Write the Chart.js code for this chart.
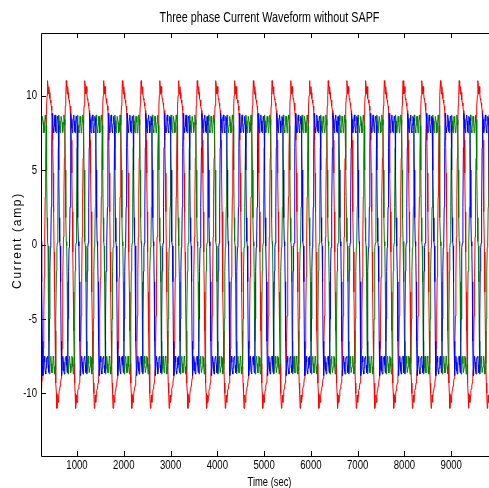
<!DOCTYPE html>
<html lang="en">
<head>
<meta charset="UTF-8">
<title>Three phase Current Waveform without SAPF</title>
<script src="https://cdn.jsdelivr.net/npm/chart.js"></script>
<style>
  html, body { margin: 0; padding: 0; background: #fff; overflow: hidden; }
  #wrap { width: 489px; height: 488px; overflow: hidden; }
</style>
</head>
<body>
<div id="wrap"><canvas id="grafico" width="500" height="488"></canvas></div>
<script>
    var titulo = 'Three phase Current Waveform without SAPF';
    var tituloX = 'Time (sec)';
    var tituloY = 'Current (amp)';
    var xMin = 230, xMax = 10000, yMin = -14.2, yMax = 14.2;

    // one cycle = 400 samples, read every 10 samples, starting at the red peak
    var period = 400, step = 10, firstPeak = 370;

    var xTicks = [1000, 2000, 3000, 4000, 5000, 6000, 7000, 8000, 9000];
    var yTicks = [-10, -5, 0, 5, 10];

    var redCycle = [
        11.0, 10.6, 10.1, 10.6, 10.2, 9.8, 9.7, 9.5, 9.3, 9.0,
        8.4, 7.0, 4.8, 2.2, -0.5, -3.2, -5.8, -8.0, -9.3, -10.0,
        -11.0, -10.6, -10.1, -10.6, -10.2, -9.8, -9.7, -9.5, -9.3, -9.0,
        -8.4, -7.0, -4.8, -2.2, 0.5, 3.2, 5.8, 8.0, 9.3, 10.0
    ];
    var blueCycle = [
        -7.5, -8.1, -8.6, -8.5, -5.0, -1.8, -0.2, 0.1, 2.5, 6.5,
        8.8, 8.4, 7.8, 7.5, 7.9, 8.5, 8.7, 8.3, 7.6, 7.5,
        8.1, 8.6, 8.5, 8.0, 5.0, 1.8, 0.2, -0.1, -2.5, -6.5,
        -8.8, -8.4, -7.8, -7.5, -7.9, -8.5, -8.7, -8.3, -7.6, -7.6
    ];
    var greenCycle = [
        0.2, -0.1, -2.5, -6.5, -8.7, -8.3, -7.7, -7.5, -8.0, -8.6,
        -8.6, -8.2, -7.5, -7.6, -8.2, -8.7, -8.4, -8.0, -5.0, -1.8,
        -0.2, 0.1, 2.5, 6.5, 8.7, 8.3, 7.7, 7.5, 8.0, 8.6,
        8.6, 8.2, 7.5, 7.6, 8.2, 8.7, 8.4, 8.0, 5.0, 1.8
    ];

    var fonte = '"Liberation Sans", Arial, sans-serif';

    function serie(cycle) {
        var pts = [];
        for (var s = xMin; s <= xMax; s += step) {
            var k = ((((s - firstPeak) % period) + period) % period) / step;
            pts.push({ x: s, y: cycle[k] });
        }
        return pts;
    }

    // narrow text like the original figure font
    function texto(ctx, str, x, y, size, sx, align) {
        ctx.save();
        ctx.translate(x, y);
        ctx.scale(sx, 1);
        ctx.font = size + 'px ' + fonte;
        ctx.textAlign = align;
        ctx.textBaseline = 'middle';
        ctx.fillText(str, 0, 0);
        ctx.restore();
    }

    // box with inward ticks, labels and titles
    var moldura = {
        id: 'moldura',
        afterDraw: function (chart) {
            var ctx = chart.ctx, a = chart.chartArea;
            var sx = chart.scales.x, sy = chart.scales.y;
            var t = 5;
            ctx.save();
            ctx.strokeStyle = '#000';
            ctx.lineWidth = 1;
            ctx.beginPath();
            ctx.rect(Math.round(a.left) + 0.5, Math.round(a.top) + 0.5,
                Math.round(a.right - a.left), Math.round(a.bottom - a.top));
            xTicks.forEach(function (v) {
                var px = Math.round(sx.getPixelForValue(v)) + 0.5;
                ctx.moveTo(px, a.bottom); ctx.lineTo(px, a.bottom - t);
                ctx.moveTo(px, a.top); ctx.lineTo(px, a.top + t);
            });
            yTicks.forEach(function (v) {
                var py = Math.round(sy.getPixelForValue(v)) + 0.5;
                ctx.moveTo(a.left, py); ctx.lineTo(a.left + t, py);
                ctx.moveTo(a.right, py); ctx.lineTo(a.right - t, py);
            });
            ctx.stroke();

            ctx.fillStyle = '#000';
            xTicks.forEach(function (v) {
                texto(ctx, String(v), sx.getPixelForValue(v), a.bottom + 10, 12, 0.8, 'center');
            });
            yTicks.forEach(function (v) {
                texto(ctx, String(v), a.left - 4, sy.getPixelForValue(v) + 0.5, 12, 0.8, 'right');
            });
            texto(ctx, titulo, (a.left + a.right) / 2, 18, 15, 0.72, 'center');
            texto(ctx, tituloX, (a.left + a.right) / 2, 482, 13, 0.72, 'center');

            ctx.save();
            ctx.translate(18, (a.top + a.bottom) / 2 - 4);
            ctx.rotate(-Math.PI / 2);
            ctx.font = '12px ' + fonte;
            ctx.letterSpacing = '1.7px';
            ctx.textAlign = 'center';
            ctx.textBaseline = 'middle';
            ctx.fillText(tituloY, 0, 0);
            ctx.restore();

            ctx.restore();
        }
    };

    var config = {
        type: 'line',
        data: {
            datasets: [
                { data: serie(blueCycle), borderColor: '#0000ff' },
                { data: serie(greenCycle), borderColor: '#008000' },
                { data: serie(redCycle), borderColor: '#ff0000' }
            ]
        },
        options: {
            responsive: false,
            animation: false,
            events: [],
            layout: { padding: { top: 33, right: 2, left: 0, bottom: 0 } },
            elements: {
                point: { radius: 0 },
                line: { borderWidth: 1, tension: 0 }
            },
            plugins: { legend: { display: false }, tooltip: { enabled: false } },
            scales: {
                x: {
                    type: 'linear',
                    min: xMin,
                    max: xMax,
                    grid: { display: false },
                    border: { display: false },
                    ticks: { display: false },
                    afterBuildTicks: function (s) { s.ticks = xTicks.map(function (v) { return { value: v }; }); },
                    afterFit: function (s) { s.height = 32; }
                },
                y: {
                    min: yMin,
                    max: yMax,
                    grid: { display: false },
                    border: { display: false },
                    ticks: { display: false },
                    afterBuildTicks: function (s) { s.ticks = yTicks.map(function (v) { return { value: v }; }); },
                    afterFit: function (s) { s.width = 41; }
                }
            }
        },
        plugins: [moldura]
    };

    var ctx = document.getElementById('grafico').getContext('2d');
    window.meuGrafico = new Chart(ctx, config);
</script>
</body>
</html>
